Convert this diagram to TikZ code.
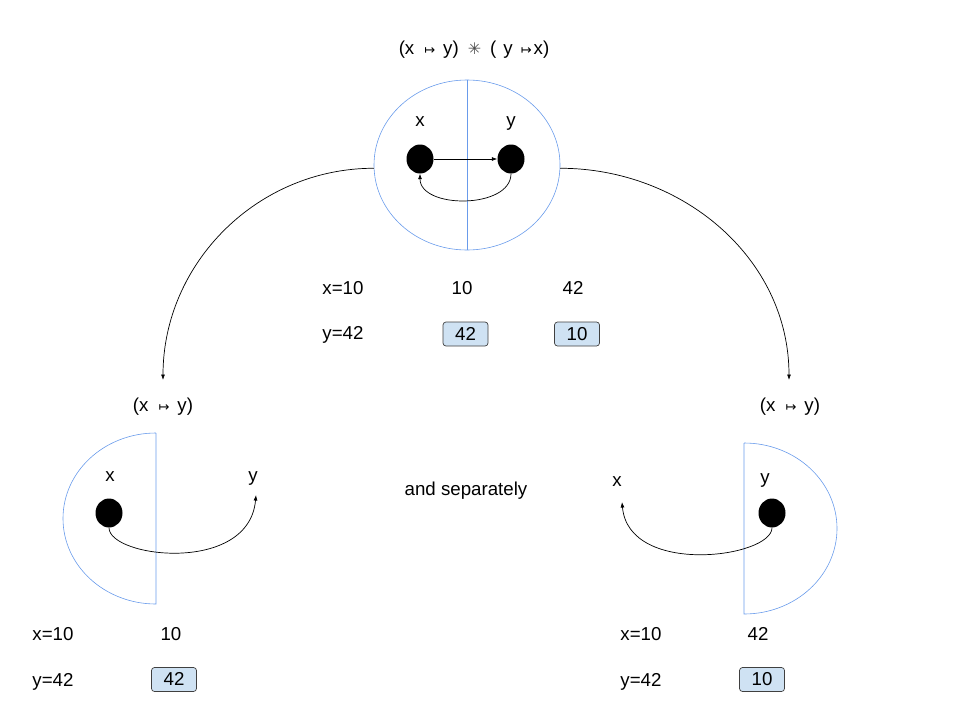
\documentclass[tikz,border=0pt]{standalone}
\usepackage{fontspec}
\setmainfont{Liberation Sans}
\newfontfamily\symfont{DejaVu Sans}
\usetikzlibrary{arrows.meta,positioning,shapes.geometric}
\definecolor{cellblue}{RGB}{207,226,243}
\definecolor{rimblue}{RGB}{105,155,235}
\newcommand{\mapsym}{{\symfont\fontsize{13}{14}\selectfont ↦}}
\newcommand{\starsym}{{\symfont\fontsize{16}{18}\selectfont\color{black!70}✳}}
\newcommand{\pairtxt}{(x\hspace{10pt}\mapsym\hspace{8pt}y)}
\tikzset{>={Latex[length=5.5pt,width=4pt]},
         txt/.style={font=\fontsize{18.7}{22}\selectfont, inner sep=0pt,
                     text height=13pt, text depth=1pt},
         rim/.style={draw=rimblue, line width=0.6pt},
         bead/.style={ellipse, fill=black, inner sep=0pt,
                      minimum width=27pt, minimum height=29pt},
         cell/.style={txt, draw=black!75, fill=cellblue, rounded corners=3pt,
                      line width=0.7pt, minimum width=45pt, minimum height=24pt},
         flow/.style={->, line width=0.7pt}}

\begin{document}
\begin{tikzpicture}[x=1pt,y=-1pt]
  \useasboundingbox (0,0) rectangle (960,720);
  % both halves together
  \node[txt] (title) at (474,48) {\pairtxt\hspace{9pt}\starsym\hspace{9pt}(\hspace{7pt}y\hspace{8pt}\mapsym\hspace{2pt}x)};
  \node[ellipse, rim, minimum width=186pt, minimum height=170pt] (pair) at (467,165) {};
  \draw[rim] (pair.north) -- (pair.south);
  \node[txt] (px) at (420,120) {x};
  \node[txt] (py) at (511,120) {y};
  \node[bead] (bx) at (420,159) {};
  \node[bead] (by) at (511,159) {};
  \draw[flow] (bx) -- (by);
  \draw[flow] (by.south) to[out=-90,in=-90] (bx.south);
  \node[txt] (tx) at (343,288) {x=10};
  \node[txt] (ty) at (343,333) {y=42};
  \node[txt] (tl) at (462,288) {10};
  \node[txt] (tr) at (573,288) {42};
  \node[cell] (tlc) at (465.5,334) {42};
  \node[cell] (trc) at (577,334) {10};
  % split
  \coordinate (lin) at (163,380);
  \coordinate (rin) at (789,380);
  \draw[flow] (pair.182) to[out=180,in=90] (lin);
  \draw[flow] (pair.-2) to[out=0,in=90] (rin);
  \node[txt] (sep) at (466,489) {and separately};
  % left half
  \node[txt] (lt) at (163,405) {\pairtxt};
  \draw[rim] (156,433) -- (156,604) arc[start angle=90,end angle=270,x radius=93,y radius=85.5];
  \node[txt] (lqx) at (110,475) {x};
  \node[txt] (lqy) at (253,475) {y};
  \node[bead] (lb) at (109,513) {};
  \coordinate (ltip) at (256,495);
  \draw[flow] (lb.south) to[out=-90,in=-95,out distance=30pt,in distance=80pt] (ltip);
  \node[txt] (lx) at (53,634) {x=10};
  \node[txt] (ly) at (53,680) {y=42};
  \node[txt] (lv) at (171,634) {10};
  \node[cell] (lc) at (174,679.5) {42};
  % right half
  \node[txt] (rt) at (790,405) {\pairtxt};
  \draw[rim] (744,443) -- (744,614) arc[start angle=90,end angle=-90,x radius=93,y radius=85.5];
  \node[txt] (rqy) at (765,477) {y};
  \node[txt] (rqx) at (617,480) {x};
  \node[bead] (rb) at (772,513) {};
  \coordinate (rtip) at (622,502);
  \draw[flow] (rb.south) to[out=-90,in=-85,out distance=30pt,in distance=75pt] (rtip);
  \node[txt] (rx) at (641,634) {x=10};
  \node[txt] (ry) at (641,680) {y=42};
  \node[txt] (rv) at (758,634) {42};
  \node[cell] (rc) at (762,679.5) {10};
\end{tikzpicture}
\end{document}
